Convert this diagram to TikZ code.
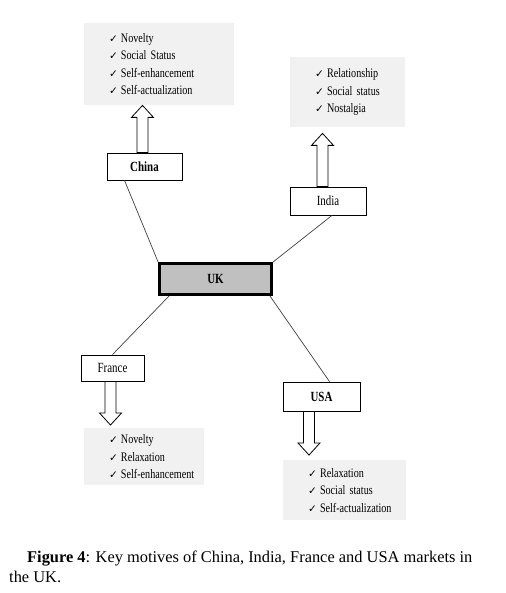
\documentclass[tikz,border=0pt]{standalone}
\usepackage{fontspec}
\setmainfont{Liberation Serif}
\newfontfamily\diagfont{Liberation Serif}[FakeStretch=0.78]
\newfontfamily\tickfont{DejaVu Sans}
\usetikzlibrary{calc}

\definecolor{motgray}{RGB}{241,241,241}
\definecolor{ukgray}{RGB}{192,192,192}

% one line of a motives list
\newcommand{\motive}[1]{\mbox{{\tickfont\fontsize{10.5}{10.5}\selectfont ✓}\hspace{3pt}#1}}
% hollow block arrow from #1 to #2 (vertical)
\newcommand{\hollowarrow}[2]{%
  \draw[hollow] let \p1=(#1), \p2=(#2), \p3=($(#2)!12pt!(#1)$) in
    (\x1-5.5pt,\y1) -- (\x1-5.5pt,\y3) -- (\x1-11pt,\y3) -- (\x1,\y2)
    -- (\x1+11pt,\y3) -- (\x1+5.5pt,\y3) -- (\x1+5.5pt,\y1) -- cycle;}

\begin{document}
\begin{tikzpicture}[
  x=1pt, y=-1pt,
  font=\diagfont\fontsize{13}{17.5}\selectfont,
  country/.style={draw, line width=0.8pt, fill=white, inner sep=0pt, font=\diagfont\fontsize{14}{14}\selectfont},
  motbox/.style={fill=motgray, align=left, inner xsep=25pt, inner ysep=0pt, anchor=north west},
  hollow/.style={draw, line width=0.8pt, fill=white, line join=miter},
  conn/.style={draw=black!75, line width=0.7pt},
  caption/.style={font=\rmfamily\fontsize{16.4}{20}\selectfont, align=left, inner sep=0pt, anchor=west}
]
\useasboundingbox (0,0) rectangle (505,593);

% motives
\node[motbox, text width=100, minimum height=82] (chinamot) at (84,23)
  {\motive{Novelty}\\\motive{Social Status}\\\motive{Self-enhancement}\\\motive{Self-actualization}};
\node[motbox, text width=65, minimum height=70] (indiamot) at (290,57)
  {\motive{Relationship}\\\motive{Social status}\\\motive{Nostalgia}};
\node[motbox, text width=70, minimum height=57] (francemot) at (84,428)
  {\motive{Novelty}\\\motive{Relaxation}\\\motive{Self-enhancement}};
\node[motbox, text width=73, minimum height=60] (usamot) at (283,460)
  {\motive{Relaxation}\\\motive{Social status}\\\motive{Self-actualization}};

% countries
\node[country, minimum width=75, minimum height=27] (china) at (144.5,166.5) {\textbf{China}};
\node[country, minimum width=76, minimum height=28] (india) at (328,201) {India};
\node[country, line width=2.6pt, fill=ukgray, minimum width=112, minimum height=31] (uk) at (215.5,279) {\textbf{UK}};
\node[country, minimum width=63, minimum height=26] (france) at (112.5,368) {France};
\node[country, minimum width=77, minimum height=29] (usa) at (321.5,396.5) {\textbf{USA}};

% block arrows
\coordinate (chinatail) at ([xshift=-2pt]china.north);
\coordinate (chinatip) at (chinatail |- chinamot.south);
\coordinate (indiatail) at ([xshift=-5.5pt]india.north);
\coordinate (indiatip) at ([yshift=-6pt]indiatail |- indiamot.south);
\coordinate (francetail) at ([xshift=-2pt]france.south);
\coordinate (francetip) at ([yshift=3pt]francetail |- francemot.north);
\coordinate (usatail) at ([xshift=-12.5pt]usa.south);
\coordinate (usatip) at ([yshift=5pt]usatail |- usamot.north);
\hollowarrow{chinatail}{chinatip}
\hollowarrow{indiatail}{indiatip}
\hollowarrow{francetail}{francetip}
\hollowarrow{usatail}{usatip}

% links to the UK
\draw[conn] ([xshift=-20pt]china.south) -- (uk.north west);
\draw[conn] ([xshift=4pt]india.south) -- (uk.north east);
\draw[conn] ([xshift=11pt]uk.south west) -- (france.north);
\draw[conn] ([xshift=-3pt]uk.south east) -- ([xshift=8pt]usa.north);

\node[caption] (cap) at (9,567)
  {\hspace*{18pt}\textbf{Figure 4}: Key motives of China, India, France and USA markets in\\the UK.};
\end{tikzpicture}
\end{document}
